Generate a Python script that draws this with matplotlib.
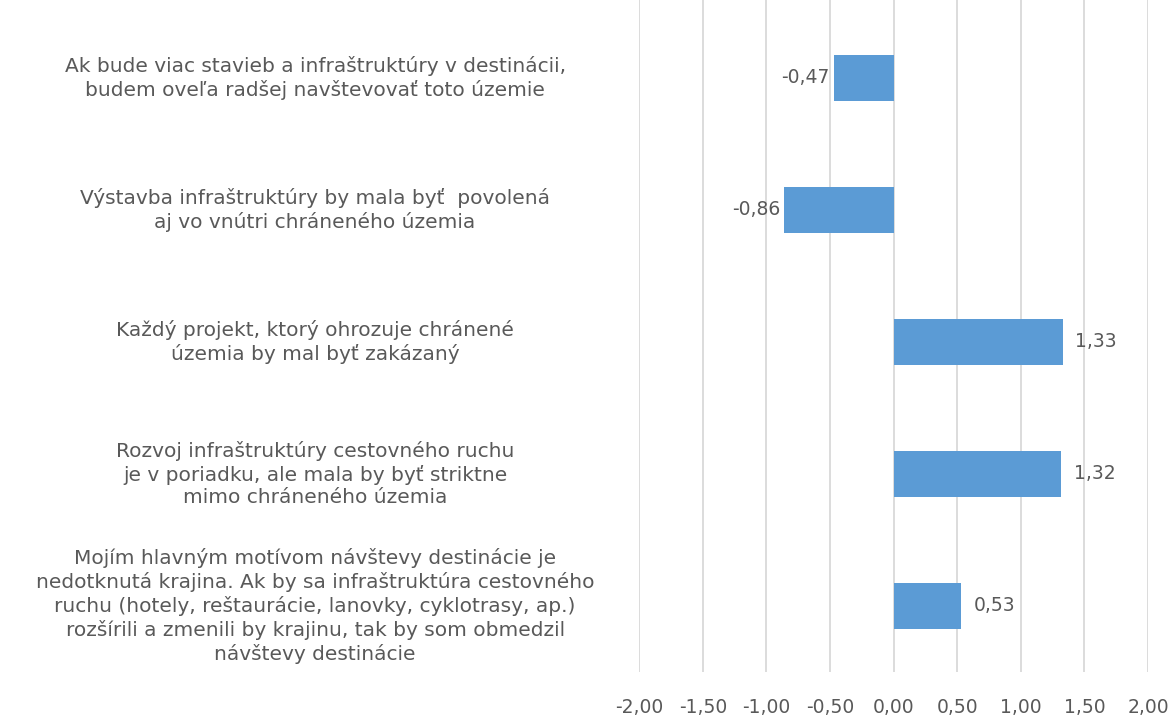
import matplotlib.pyplot as plt
from matplotlib.ticker import FuncFormatter

labels = [
    'Ak bude viac stavieb a infraštruktúry v destinácii,\nbudem oveľa radšej navštevovať toto územie',
    'Výstavba infraštruktúry by mala byť  povolená\naj vo vnútri chráneného územia',
    'Každý projekt, ktorý ohrozuje chránené\núzemia by mal byť zakázaný',
    'Rozvoj infraštruktúry cestovného ruchu\nje v poriadku, ale mala by byť striktne\nmimo chráneného územia',
    'Mojím hlavným motívom návštevy destinácie je\nnedotknutá krajina. Ak by sa infraštruktúra cestovného\nruchu (hotely, reštaurácie, lanovky, cyklotrasy, ap.)\nrozšírili a zmenili by krajinu, tak by som obmedzil\nnávštevy destinácie',
]
values = [-0.47, -0.86, 1.33, 1.32, 0.53]
xticks = [-2.0, -1.5, -1.0, -0.5, 0.0, 0.5, 1.0, 1.5, 2.0]

plt.rcParams['font.family'] = ['DejaVu Sans']
grey = '#595959'
fs = 13.5

fig = plt.figure(figsize=(11.75, 7.16), dpi=100)
ax = fig.add_axes([0.544, 1 - 672 / 716, 0.433, 672 / 716])

ypos = list(range(len(values)))
ax.barh(ypos, values, height=0.35, color='#5B9BD5', zorder=3)
ax.set_ylim(len(values) - 0.5, -0.59)
ax.set_xlim(-2, 2)
ax.set_xticks(xticks)
ax.xaxis.set_major_formatter(FuncFormatter(lambda v, p: f'{v:.2f}'.replace('.', ',')))
ax.tick_params(axis='x', length=0, pad=19, labelsize=fs, labelcolor=grey)
ax.set_yticks([])
ax.grid(axis='x', color='#D9D9D9', linewidth=1.3, zorder=0)
for s in ax.spines.values():
    s.set_visible(False)

for y, v in zip(ypos, values):
    txt = f'{v:.2f}'.replace('.', ',')
    if v < 0:
        ax.text(v - 0.03, y, txt, ha='right', va='center', fontsize=fs, color=grey)
    else:
        ax.text(v + 0.1, y, txt, ha='left', va='center', fontsize=fs, color=grey)

for y, lab in zip(ypos, labels):
    ax.text(-0.637, y, lab, transform=ax.get_yaxis_transform(), ha='center', va='center',
            multialignment='center', fontsize=14.5, color=grey, linespacing=1.25)

fig.savefig('out.png', dpi=100)
